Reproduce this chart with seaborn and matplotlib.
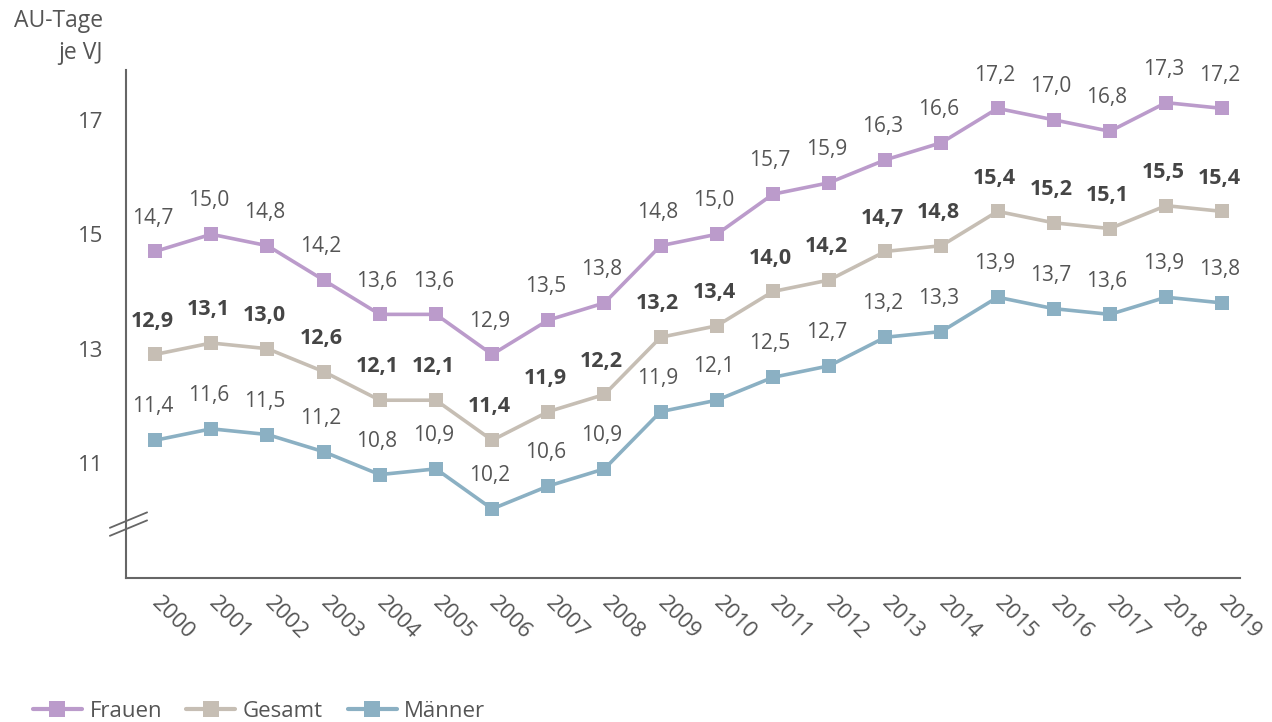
import numpy as np
import pandas as pd
import seaborn as sns
import matplotlib.pyplot as plt
import matplotlib.transforms as mtransforms

sns.set_style('white')
plt.rcParams['font.family'] = ['Open Sans', 'DejaVu Sans']

years = list(range(2000, 2020))
frauen = [14.7, 15.0, 14.8, 14.2, 13.6, 13.6, 12.9, 13.5, 13.8, 14.8,
          15.0, 15.7, 15.9, 16.3, 16.6, 17.2, 17.0, 16.8, 17.3, 17.2]
gesamt = [12.9, 13.1, 13.0, 12.6, 12.1, 12.1, 11.4, 11.9, 12.2, 13.2,
          13.4, 14.0, 14.2, 14.7, 14.8, 15.4, 15.2, 15.1, 15.5, 15.4]
maenner = [11.4, 11.6, 11.5, 11.2, 10.8, 10.9, 10.2, 10.6, 10.9, 11.9,
           12.1, 12.5, 12.7, 13.2, 13.3, 13.9, 13.7, 13.6, 13.9, 13.8]
groups = ['Frauen', 'Gesamt', 'Männer']
y_ticks = [11, 13, 15, 17]

colors = {'Frauen': '#bb9bcb', 'Gesamt': '#c6beb4', 'Männer': '#8bb0c3'}
axis_col = '#666666'
text_col = '#555555'

df = pd.DataFrame({'Jahr': years * 3,
                   'AU': frauen + gesamt + maenner,
                   'Gruppe': [g for g in groups for _ in years]})

fig = plt.figure(figsize=(12.72, 7.22), dpi=100)
ax = fig.add_axes([0.099, 0.2, 0.876, 0.703])

sns.lineplot(data=df, x='Jahr', y='AU', hue='Gruppe', hue_order=groups,
             palette=colors, style='Gruppe', markers={g: 's' for g in groups},
             dashes=False, linewidth=2.6, markersize=10, markeredgewidth=0,
             ax=ax, legend=False)

# data labels
for g, vals in zip(groups, [frauen, gesamt, maenner]):
    bold = g == 'Gesamt'
    for x, v in zip(years, vals):
        ax.annotate(f'{v:.1f}'.replace('.', ','), (x, v), xytext=(-2, 24),
                    textcoords='offset points', ha='center', va='center',
                    fontsize=15.5 if bold else 15,
                    fontweight='bold' if bold else 'normal',
                    color='#454545' if bold else text_col)

ax.set_xlim(1999.48, 2019.32)
ax.set_ylim(9, 17.87)
ax.set_xticks(years)
ax.set_xticklabels([str(y) for y in years], rotation=-45, ha='left',
                   va='center', rotation_mode='anchor', fontsize=16,
                   color=text_col)
ax.set_yticks(y_ticks)
ax.set_yticklabels([str(t) for t in y_ticks], fontsize=16, color=text_col)
ax.tick_params(axis='both', direction='in', length=6, width=1.2,
               color=axis_col)
ax.tick_params(axis='x', pad=16)
ax.tick_params(axis='y', pad=16)
ax.set_xlabel('')
ax.set_ylabel('')
for s in ['top', 'right']:
    ax.spines[s].set_visible(False)
for s in ['left', 'bottom']:
    ax.spines[s].set_color(axis_col)
    ax.spines[s].set_linewidth(1.5)

fig.text(0.081, 0.988, 'AU-Tage\nje VJ', ha='right', va='top',
         fontsize=16.5, color=text_col, linespacing=1.45)

# axis break marks
trans = mtransforms.blended_transform_factory(ax.transAxes, ax.transData)
for dy in [0, -0.14]:
    ax.plot([-0.0144, 0.019], [9.87 + dy, 10.14 + dy], color=axis_col,
            lw=1.3, transform=trans, clip_on=False)

# legend
handles = [plt.Line2D([], [], color=colors[g], lw=3, marker='s',
                      markersize=11, markeredgewidth=0) for g in groups]
fig.legend(handles, groups, loc='lower left', bbox_to_anchor=(0.01, -0.028),
           ncol=3, frameon=False, fontsize=16, handlelength=2.2,
           columnspacing=1.1, handletextpad=0.35, labelcolor=text_col)

fig.savefig('out.png', dpi=100, facecolor='w')
